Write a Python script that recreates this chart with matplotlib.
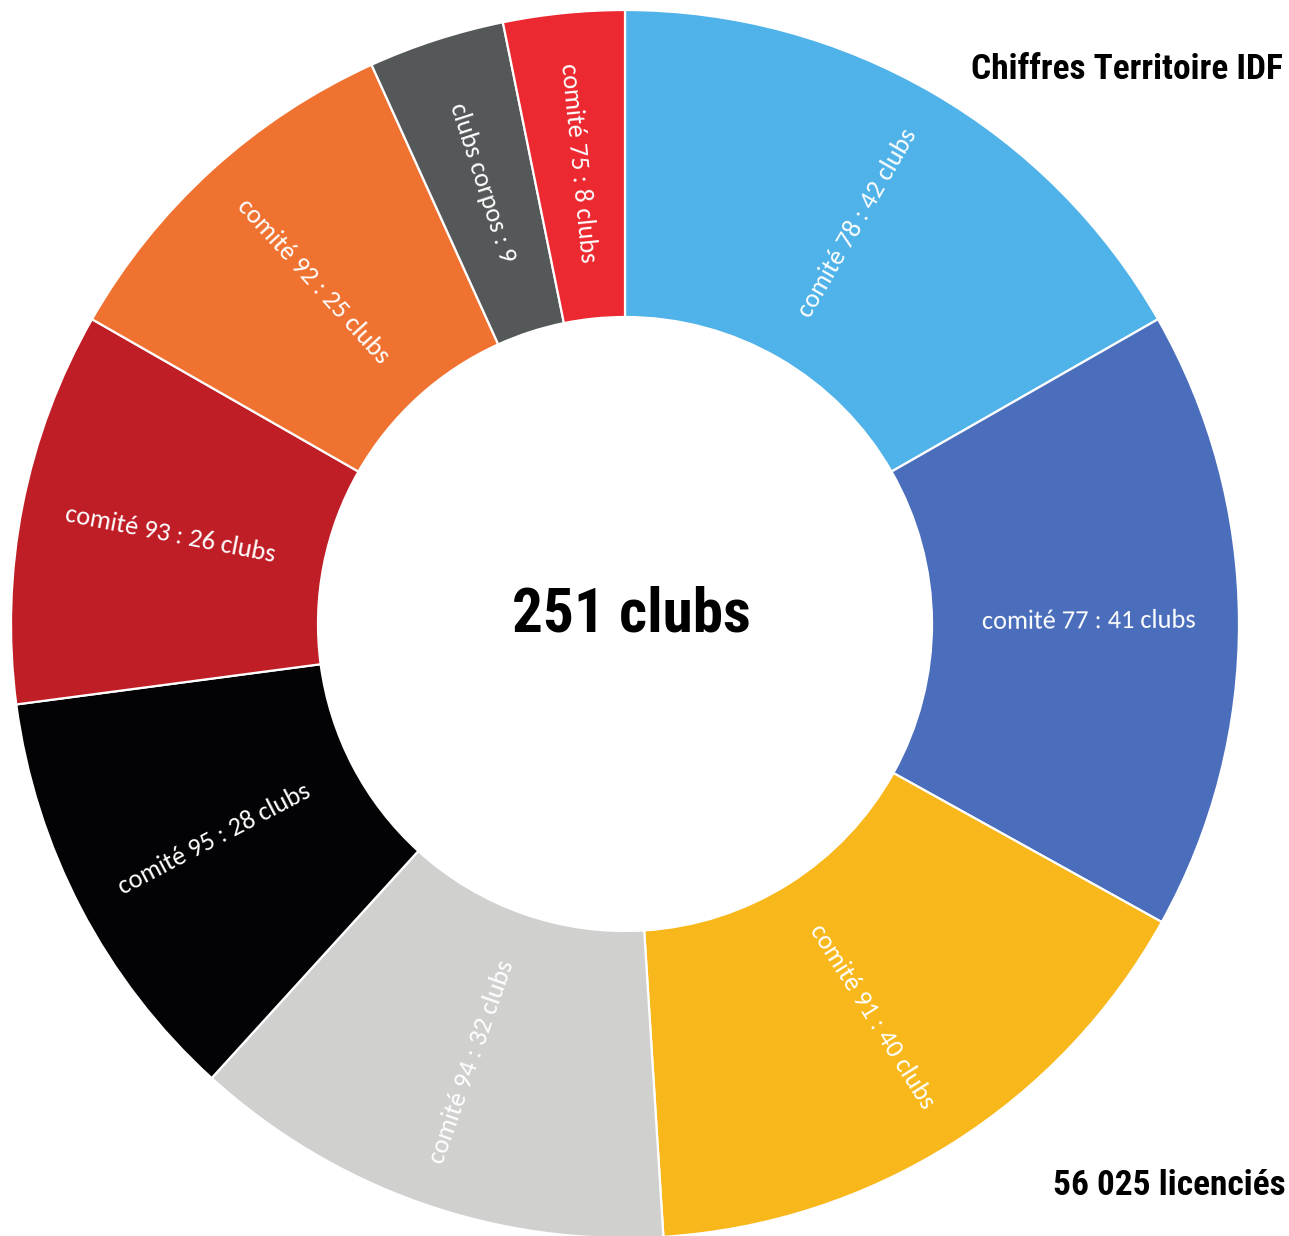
import matplotlib.pyplot as plt
import numpy as np

# Slices, clockwise from 12 o'clock
labels = ["comité 78 : 42 clubs", "comité 77 : 41 clubs", "comité 91 : 40 clubs",
          "comité 94 : 32 clubs", "comité 95 : 28 clubs", "comité 93 : 26 clubs",
          "comité 92 : 25 clubs", "clubs corpos : 9", "comité 75 : 8 clubs"]
clubs = [42, 41, 40, 32, 28, 26, 25, 9, 8]
colours = ["#4FB2E8", "#4A6EBC", "#F8B71A", "#D0D1CF", "#030305",
           "#C01E27", "#F07230", "#545859", "#EC2830"]

total_label = "251 clubs"
title = "Chiffres Territoire IDF"
licences = "56 025 licenciés"

W, H = 1289, 1236
fig = plt.figure(figsize=(W / 100, H / 100), dpi=100)

# Donut centre and radius in pixels (from the top left)
cx, cy, r = 625, 624, 614
ax = fig.add_axes([(cx - r) / W, (H - cy - r) / H, 2 * r / W, 2 * r / H])

wedges, _ = ax.pie(clubs, colors=colours, startangle=90, counterclock=False,
                   radius=1, wedgeprops=dict(width=0.5, edgecolor="white", linewidth=1.6))
# pie() sets its own limits, so override them afterwards
ax.set_xlim(-1, 1)
ax.set_ylim(-1, 1)
ax.set_aspect("equal")
ax.axis("off")

# Carlito is metric compatible with Calibri
label_font = ["Carlito", "Lato", "DejaVu Sans"]
for w, text in zip(wedges, labels):
  mid = (w.theta1 + w.theta2) / 2
  rad = np.deg2rad(mid)
  # keep the radial labels readable (never upside down)
  rot = mid
  while rot > 90:
    rot -= 180
  while rot < -90:
    rot += 180
  ax.text(0.755 * np.cos(rad), 0.755 * np.sin(rad), text, color="white",
          ha="center", va="center", rotation=rot, rotation_mode="anchor",
          fontsize=19, family=label_font)

# Stand-in for Arial Narrow Bold
bold_font = ["Roboto Condensed", "Liberation Sans", "DejaVu Sans"]
ax.text(0.01, -0.013, total_label, ha="center", va="baseline", fontsize=44,
        fontweight="bold", family=bold_font)

fig.text(1283 / W, 1 - 79 / H, title, ha="right", va="baseline", fontsize=25.5,
         fontweight="bold", family=bold_font)
fig.text(1286 / W, 1 - 1195 / H, licences, ha="right", va="baseline", fontsize=25.5,
         fontweight="bold", family=bold_font)

fig.savefig("out.png", dpi=100, facecolor="white")
